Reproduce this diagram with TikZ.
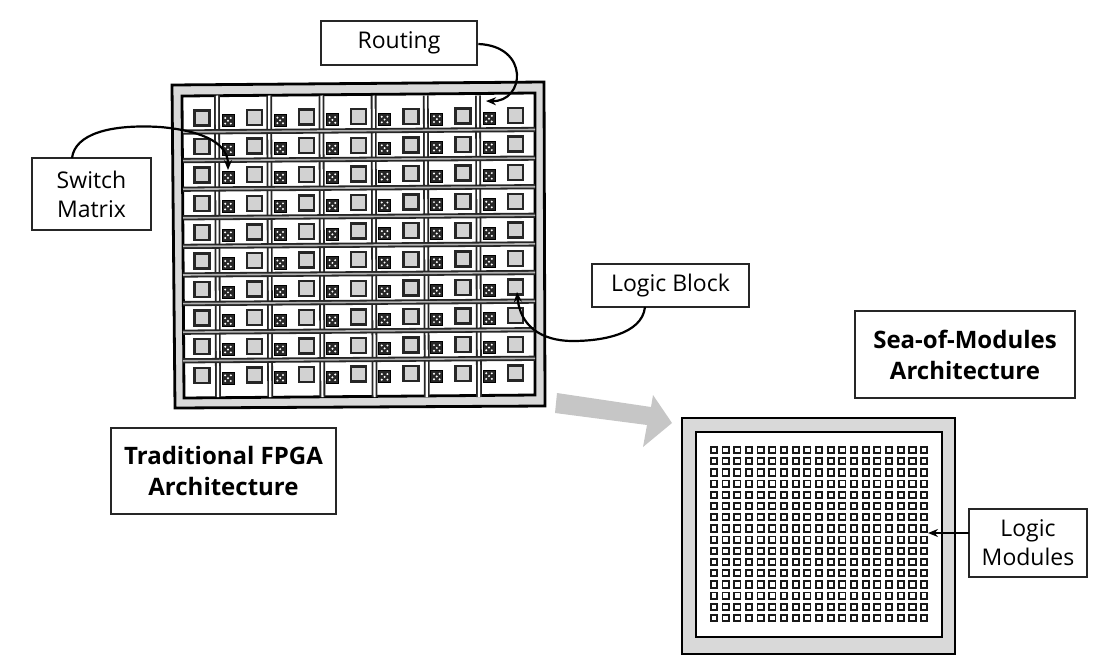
\documentclass[tikz,border=0pt]{standalone}
\usepackage{fontspec}
\setmainfont{Open Sans}
\usetikzlibrary{arrows.meta}
\tikzset{
  labelbox/.style={draw=black!85,line width=2.6pt,fill=white,align=center,inner sep=0pt,font=\fontsize{23}{29}\selectfont},
  titlebox/.style={labelbox,font=\fontsize{24}{31}\selectfont\bfseries},
  logicblock/.style={draw=black!85,line width=2.4pt,fill=gray!35,minimum size=15pt,inner sep=0pt},
  switchblock/.style={draw=black,line width=1pt,fill=black!85,minimum size=12pt,inner sep=0pt,
    path picture={\fill[white] (path picture bounding box.center) circle (1.1pt)
      +(2.8pt,2.8pt) circle (1.1pt) +(-2.8pt,2.8pt) circle (1.1pt) +(2.8pt,-2.8pt) circle (1.1pt) +(-2.8pt,-2.8pt) circle (1.1pt);}},
  moduleblock/.style={draw=black!90,line width=1.9pt,fill=white,minimum size=6.3pt,inner sep=0pt},
  routeh/.style={draw=black!85,line width=1.8pt,double=gray!60,double distance=1.6pt},
  routev/.style={draw=black!85,line width=1.8pt,double=white,double distance=2.2pt},
  callout/.style={line width=2.2pt,-{Stealth[length=10pt,width=8pt]}}
}
\begin{document}
\begin{tikzpicture}[x=1pt,y=-1pt]
	\useasboundingbox (0,0) rectangle (1097,664);
	% traditional chip
	\draw[line width=2.8pt,fill=gray!30] (172,85) -- (544,82) -- (545,406) -- (175,408) -- cycle;
	\draw[line width=2.8pt,fill=white] (182,96) -- (535,93) -- (535,395) -- (184,398) -- cycle;
	% routing channels
	\foreach \col in {0,...,5} {
		\pgfmathsetmacro{\xa}{217+52.2*\col}
		\draw[routev] (\xa,95.5) -- (\xa+1,397);
	}
	\foreach \row in {0,...,8} {
		\pgfmathsetmacro{\ya}{132+28.6*\row}
		\draw[routeh] (183,\ya) -- (535,\ya-2.5);
	}
	% blocks
	\foreach \row in {0,...,9} {
		\foreach \col in {0,...,6} {
			\pgfmathsetmacro{\xb}{202+52.2*\col}
			\pgfmathsetmacro{\yb}{118+28.6*\row-0.008*(\xb-200)}
			\node[logicblock] (lb-\row-\col) at (\xb,\yb) {};
		}
		\foreach \col in {0,...,5} {
			\pgfmathsetmacro{\xb}{228+52.2*\col}
			\pgfmathsetmacro{\yb}{121+28.6*\row-0.008*(\xb-200)}
			\node[switchblock] (sw-\row-\col) at (\xb,\yb) {};
		}
	}
	% sea of modules chip
	\draw[line width=2.8pt,fill=gray!30] (682,418) rectangle (955,654);
	\draw[line width=2.8pt,fill=white] (696,432) rectangle (942,637);
	\foreach \row in {0,...,15} {
		\foreach \col in {0,...,18} {
			\node[moduleblock] (mod-\row-\col) at (714+11.67*\col,450+11.2*\row) {};
		}
	}
	% labels
	\node[labelbox,minimum width=156pt,minimum height=44pt] (routing) at (399,43) {\raisebox{-2pt}{Routing}};
	\node[labelbox,minimum width=119pt,minimum height=72pt] (switch) at (91.5,194) {Switch\\Matrix};
	\node[labelbox,minimum width=157pt,minimum height=43pt] (logicblk) at (670.5,285.5) {Logic Block};
	\node[labelbox,minimum width=118pt,minimum height=68pt] (logicmod) at (1028,543) {Logic\\Modules};
	\node[titlebox,minimum width=225pt,minimum height=86pt] (tradtitle) at (223.5,471) {Traditional FPGA\\Architecture};
	\node[titlebox,minimum width=220pt,minimum height=87pt] (seatitle) at (965,354.5) {Sea-of-Modules\\Architecture};
	% arrows
	\coordinate (routing-out) at (routing.east |- 0,44);
	\coordinate (routing-end) at (486,101);
	\coordinate (switch-out) at (72,158);
	\coordinate (logicblk-out) at (645,307);
	\coordinate (lb-end) at (517,292);
	\coordinate (logicmod-end) at (928,533);
	\coordinate (logicmod-out) at (969,533);
	\draw[callout] (routing-out) .. controls (530,46) and (525,102) .. (routing-end);
	\draw[callout] (switch-out) .. controls (75,134) and (110,124) .. (160,127) .. controls (195,130) and (228,140) .. (228,170);
	\draw[callout] (logicblk-out) .. controls (642,335) and (600,341) .. (573,341) .. controls (540,341) and (520,325) .. (lb-end);
	\draw[callout] (logicmod-out) -- (logicmod-end);
	% big arrow
	\fill[gray!45] (557,393) -- (651,407) -- (653,395) -- (672,423) -- (643,447) -- (647,425) -- (555,413) -- cycle;
\end{tikzpicture}
\end{document}
